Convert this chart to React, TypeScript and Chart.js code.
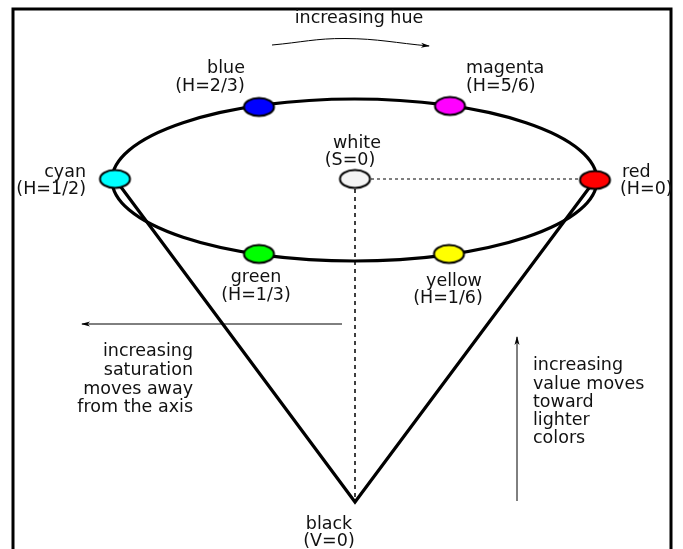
import React, { useEffect, useRef } from 'react';
import { Chart, registerables } from 'chart.js';

Chart.register(...registerables);

// Hue circle: colour dots (pixel coords of the picture)
const dotNames = ['red', 'magenta', 'blue', 'cyan', 'green', 'yellow', 'white'];
const dotColors = ['#ff0000', '#ff00ff', '#0000ff', '#00ffff', '#00ff00', '#ffff00', '#f4f4f4'];
const dotX = [595, 450, 259, 115, 259, 449, 355];
const dotY = [180, 106, 107, 179, 254, 254, 179];

// Rim ellipse: centre and radii
const rimCenter = [354.5, 180];
const rimRadii = [242.5, 81];

// Cone sides: cyan -> black apex -> red
const coneX = [115, 355, 595];
const coneY = [179, 502, 180];

// Axis (dashed) and radius (dotted)
const axisX = [355, 355];
const axisY = [189, 500];
const radiusX = [371, 580];
const radiusY = [179, 179];

// Arrows
const hueArrowX = [272, 345, 429];
const hueArrowY = [45, 38.5, 46];
const satArrowX = [342, 82];
const satArrowY = [324, 324];
const valArrowX = [517, 517];
const valArrowY = [501, 337];

// Frame
const frameX = [13, 13, 671, 671];
const frameY = [570, 9, 9, 570];

// Labels: text, x, y, align
const labelText = [
  'increasing hue',
  'blue', '(H=2/3)',
  'magenta', '(H=5/6)',
  'white', '(S=0)',
  'cyan', '(H=1/2)',
  'red', '(H=0)',
  'green', '(H=1/3)',
  'yellow', '(H=1/6)',
  'increasing', 'saturation', 'moves away', 'from the axis',
  'increasing', 'value moves', 'toward', 'lighter', 'colors',
  'black', '(V=0)',
];
const labelX = [
  359,
  226, 210,
  466, 466,
  357, 350,
  86, 86,
  622, 620,
  256, 256,
  454, 448,
  193, 193, 193, 193,
  533, 533, 533, 533, 533,
  329, 329,
];
const labelY = [
  18,
  68, 86,
  68, 86,
  143, 160,
  172, 189,
  172, 189,
  277, 295,
  281, 298,
  351, 370, 389, 407,
  365, 384, 402, 420, 438,
  524, 541,
];
const labelAlign = [
  'center',
  'center', 'center',
  'left', 'left',
  'center', 'center',
  'right', 'right',
  'left', 'left',
  'center', 'center',
  'center', 'center',
  'right', 'right', 'right', 'right',
  'left', 'left', 'left', 'left', 'left',
  'center', 'center',
];

const FONT = '17.5px "DejaVu Sans", sans-serif';

const pts = (xs: number[], ys: number[]) => xs.map((x, i) => ({ x, y: ys[i] }));

function makeDot(color: string) {
  const c = document.createElement('canvas');
  c.width = 35;
  c.height = 23;
  const g = c.getContext('2d')!;
  g.beginPath();
  g.ellipse(17.5, 11.5, 15, 9, 0, 0, Math.PI * 2);
  g.fillStyle = color;
  g.fill();
  g.lineWidth = 2;
  g.strokeStyle = '#000';
  g.stroke();
  return c;
}

const rimPlugin = {
  id: 'rim',
  beforeDatasetsDraw(chart: any) {
    const { ctx, scales } = chart;
    const xs = scales.x;
    const ys = scales.y;
    const cx = xs.getPixelForValue(rimCenter[0]);
    const cy = ys.getPixelForValue(rimCenter[1]);
    const rx = Math.abs(xs.getPixelForValue(rimCenter[0] + rimRadii[0]) - cx);
    const ry = Math.abs(ys.getPixelForValue(rimCenter[1] + rimRadii[1]) - cy);
    ctx.save();
    ctx.beginPath();
    ctx.ellipse(cx, cy, rx, ry, 0, 0, Math.PI * 2);
    ctx.lineWidth = 3.2;
    ctx.strokeStyle = '#000';
    ctx.stroke();
    ctx.restore();
  },
};

const arrowPlugin = {
  id: 'arrows',
  afterDatasetsDraw(chart: any) {
    const { ctx, scales } = chart;
    const xs = scales.x;
    const ys = scales.y;
    const arrows = [
      [hueArrowX, hueArrowY],
      [satArrowX, satArrowY],
      [valArrowX, valArrowY],
    ];
    ctx.save();
    ctx.fillStyle = '#000';
    arrows.forEach(([ax, ay]) => {
      const n = ax.length;
      const x1 = xs.getPixelForValue(ax[n - 2]);
      const y1 = ys.getPixelForValue(ay[n - 2]);
      const x2 = xs.getPixelForValue(ax[n - 1]);
      const y2 = ys.getPixelForValue(ay[n - 1]);
      const ang = Math.atan2(y2 - y1, x2 - x1);
      const len = 8;
      const hw = 2.5;
      ctx.beginPath();
      ctx.moveTo(x2 + Math.cos(ang) * 1, y2 + Math.sin(ang) * 1);
      ctx.lineTo(x2 - Math.cos(ang) * len - Math.sin(ang) * hw, y2 - Math.sin(ang) * len + Math.cos(ang) * hw);
      ctx.lineTo(x2 - Math.cos(ang) * len * 0.7, y2 - Math.sin(ang) * len * 0.7);
      ctx.lineTo(x2 - Math.cos(ang) * len + Math.sin(ang) * hw, y2 - Math.sin(ang) * len - Math.cos(ang) * hw);
      ctx.closePath();
      ctx.fill();
    });
    ctx.restore();
  },
};

const labelPlugin = {
  id: 'labels',
  afterDraw(chart: any) {
    const { ctx, scales } = chart;
    ctx.save();
    ctx.font = FONT;
    ctx.fillStyle = '#111';
    ctx.textBaseline = 'middle';
    labelText.forEach((t, i) => {
      ctx.textAlign = labelAlign[i];
      ctx.fillText(t, scales.x.getPixelForValue(labelX[i]), scales.y.getPixelForValue(labelY[i]));
    });
    ctx.restore();
  },
};

const App: React.FC = () => {
  const chartRef = useRef<HTMLCanvasElement>(null);
  const chartInstance = useRef<Chart | null>(null);

  useEffect(() => {
    if (chartInstance.current) {
      chartInstance.current.destroy();
    }
    const ctx = chartRef.current?.getContext('2d');
    if (!ctx) return;

    const line = (data: any, extra: any = {}) => ({
      type: 'scatter',
      data,
      showLine: true,
      pointRadius: 0,
      borderColor: '#000',
      borderWidth: 1,
      fill: false,
      ...extra,
    });

    chartInstance.current = new Chart(ctx, {
      type: 'scatter',
      data: {
        datasets: [
          {
            label: 'dots',
            data: pts(dotX, dotY),
            pointStyle: dotColors.map(makeDot),
            showLine: false,
            order: 0,
          },
          line(pts(coneX, coneY), { label: 'cone', borderWidth: 3.2, order: 2, borderJoinStyle: 'miter' }),
          line(pts(axisX, axisY), { label: 'axis', borderWidth: 1.5, borderDash: [4, 4], order: 3 }),
          line(pts(radiusX, radiusY), { label: 'radius', borderWidth: 1, borderDash: [3, 3], order: 3 }),
          line(pts(hueArrowX, hueArrowY), { label: 'hue', tension: 0.4, order: 3 }),
          line(pts(satArrowX, satArrowY), { label: 'saturation', order: 3 }),
          line(pts(valArrowX, valArrowY), { label: 'value', order: 3 }),
          line(pts(frameX, frameY), { label: 'frame', borderWidth: 3, order: 4, borderJoinStyle: 'miter' }),
        ] as any,
      },
      options: {
        animation: false,
        responsive: true,
        maintainAspectRatio: false,
        events: [],
        layout: { padding: 0, autoPadding: false },
        plugins: {
          legend: { display: false },
          tooltip: { enabled: false },
        },
        scales: {
          x: { type: 'linear', min: 0, max: 683, display: false },
          y: { type: 'linear', min: 0, max: 549, reverse: true, display: false },
        },
      },
      plugins: [rimPlugin, arrowPlugin, labelPlugin],
    });

    return () => {
      if (chartInstance.current) {
        chartInstance.current.destroy();
        chartInstance.current = null;
      }
    };
  }, []);

  return (
    <div style={{ position: 'absolute', left: 0, top: 0, width: 683, height: 549, background: '#fff' }}>
      <canvas ref={chartRef}></canvas>
    </div>
  );
};

export default App;
